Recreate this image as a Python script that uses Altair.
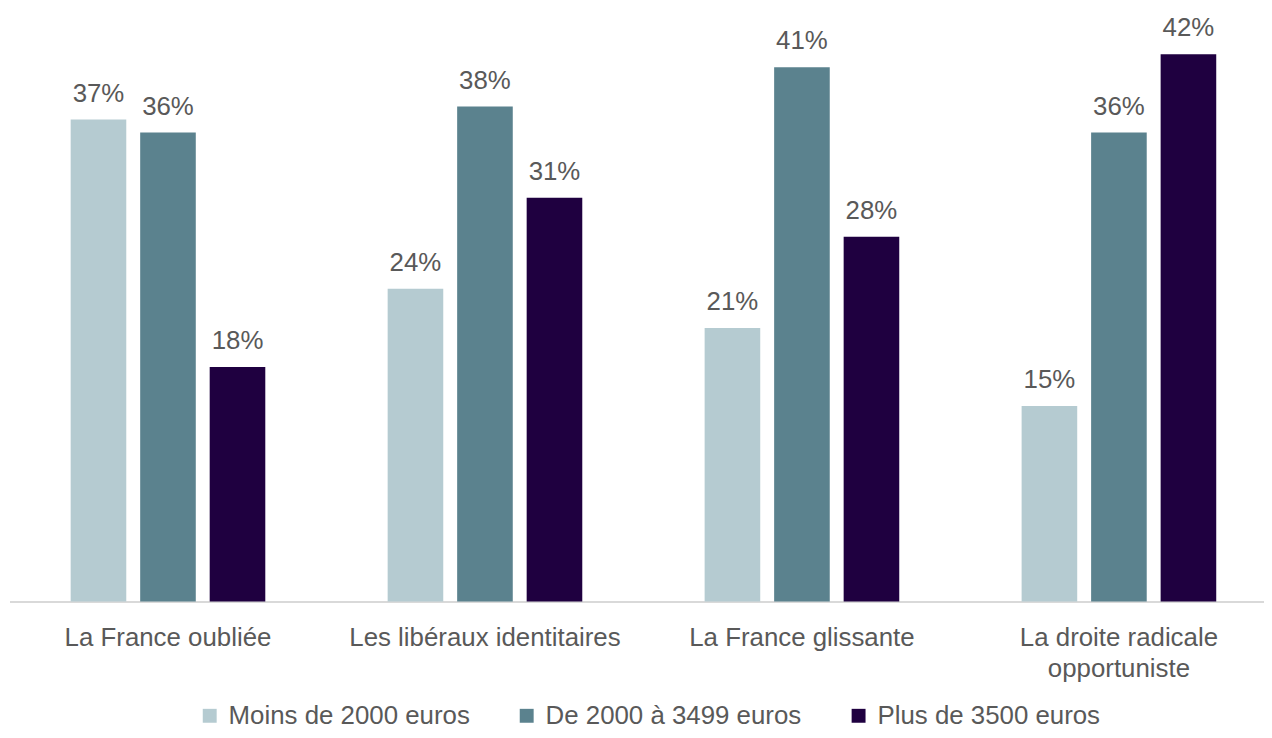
import altair as alt
import pandas as pd

categories = ["La France oubliée", "Les libéraux identitaires", "La France glissante",
              "La droite radicale opportuniste"]
series = ["Moins de 2000 euros", "De 2000 à 3499 euros", "Plus de 3500 euros"]
moins_2000 = [37, 24, 21, 15]
de_2000_3499 = [36, 38, 41, 36]
plus_3500 = [18, 31, 28, 42]
colors = ["#b5cbd1", "#5b828e", "#1f0040"]

rows = []
for s, vals in zip(series, [moins_2000, de_2000_3499, plus_3500]):
    for c, v in zip(categories, vals):
        rows.append({"groupe": c, "revenu": s, "valeur": v})
df = pd.DataFrame(rows)

font = "Liberation Sans"
txt = "#595959"

x = alt.X(
    "groupe:N", sort=categories, title=None,
    scale=alt.Scale(range=[1.5, 1277.5], paddingInner=0.386, paddingOuter=0.193),
    axis=alt.Axis(
        labelAngle=0, labelFontSize=26, labelColor=txt, labelFont=font,
        tickSize=0, labelPadding=23, domainColor="#d9d9d9", domainWidth=2,
        labelLineHeight=31, labelLimit=400, labelOverlap=False, grid=False,
        labelExpr="datum.label == 'La droite radicale opportuniste' ? ['La droite radicale', 'opportuniste'] : datum.label",
    ),
)
xo = alt.XOffset("revenu:N", sort=series, scale=alt.Scale(paddingInner=0.2, paddingOuter=0))
y = alt.Y("valeur:Q", scale=alt.Scale(domain=[0, 45], nice=False), axis=None)

base = alt.Chart(df).transform_calculate(label="datum.valeur + '%'")

bars = base.mark_bar().encode(
    x=x, xOffset=xo, y=y,
    color=alt.Color(
        "revenu:N", sort=series,
        scale=alt.Scale(domain=series, range=colors),
        legend=alt.Legend(
            title=None, orient="none", legendX=190, legendY=692, direction="horizontal",
            symbolType="square", symbolSize=196, labelFontSize=26, labelFont=font,
            labelColor=txt, columnPadding=44, symbolStrokeWidth=0, labelOffset=6,
            labelLimit=500,
        ),
    ),
)

labels = base.mark_text(baseline="alphabetic", dy=-18, fontSize=26, color=txt, font=font).encode(
    x=x, xOffset=xo, y=y, text="label:N"
)

chart = (
    alt.layer(bars, labels)
    .properties(
        width=1262, height=590,
        autosize=alt.AutoSizeParams(type="none"),
        padding={"left": 0, "top": 5, "right": 2, "bottom": 127},
        background="white",
    )
    .configure_view(stroke=None)
)

chart.save("out.html", embed_options={"renderer": "svg", "actions": False})
